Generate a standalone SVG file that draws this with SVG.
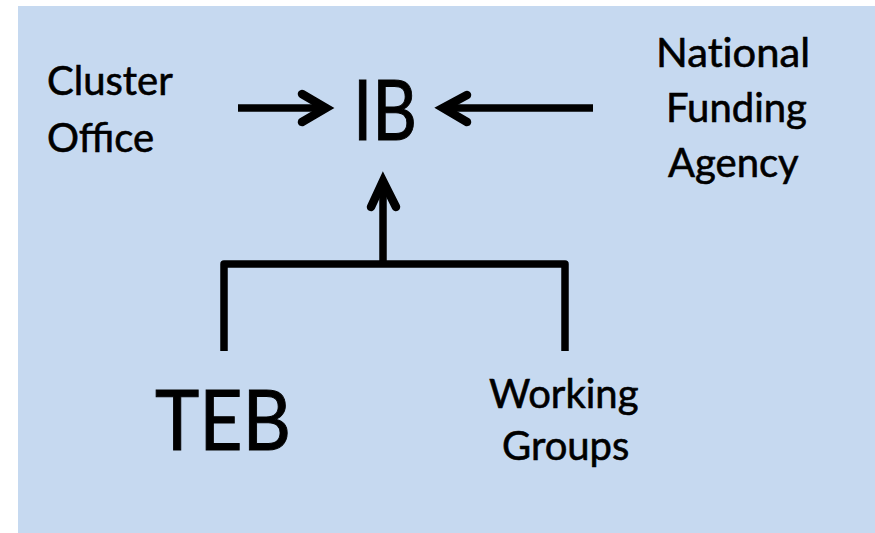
<svg xmlns="http://www.w3.org/2000/svg" width="875" height="533" viewBox="0 0 875 533">
<style>
text{font-family:Lato,"Open Sans","Liberation Sans",sans-serif;fill:#000;stroke:#000;stroke-width:0.6}
.m{font-size:40px}
.b{font-size:84px;stroke-width:1}
.nl{font-variant-ligatures:none;font-feature-settings:"liga" 0,"dlig" 0}
.c{fill:none;stroke:#000;stroke-width:7.5;stroke-linejoin:round;stroke-linecap:butt}
.h{fill:none;stroke:#000;stroke-width:8.5;stroke-linecap:round;stroke-linejoin:miter}
</style>
<rect x="18" y="6" width="857" height="527" fill="#C6D9F0"/>
<g id="cluster"><text class="m" x="47" y="95">Cluster</text><text class="m" x="47" y="152">Office</text></g>
<g id="ib"><text class="b" x="353" y="140" textLength="64" lengthAdjust="spacingAndGlyphs">IB</text></g>
<g id="nfa"><text class="m nl" x="656" y="67" textLength="154" lengthAdjust="spacingAndGlyphs">National</text><text class="m" x="666" y="122">Funding</text><text class="m" x="668" y="177">Agency</text></g>
<g id="teb"><text class="b" x="155" y="450" textLength="136" lengthAdjust="spacingAndGlyphs">TEB</text></g>
<g id="wg"><text class="m" x="489" y="408">Working</text><text class="m" x="502" y="460">Groups</text></g>
<g id="connectors">
<path class="c" d="M238 108H324"/>
<path class="h" d="M302 94L326 108L302 122"/>
<path class="c" d="M593 108H446"/>
<path class="h" d="M467 95L443 108L467 122"/>
<path class="c" d="M383 264V184"/>
<path class="h" d="M371 207L383 181L396 207"/>
<path class="c" d="M224 351V264H565V351"/>
</g>
</svg>
